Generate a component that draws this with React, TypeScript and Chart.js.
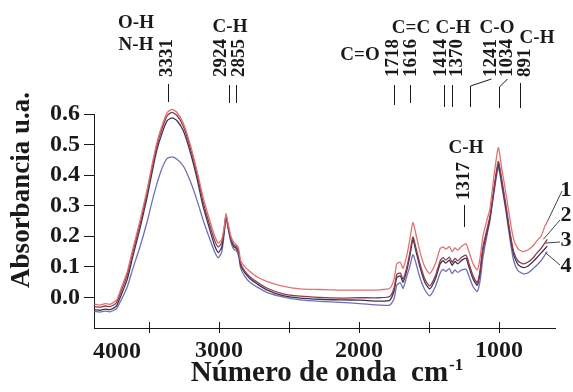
import React, { useEffect, useRef } from 'react';
import { Chart, registerables } from 'chart.js';

Chart.register(...registerables);

// Wavenumber (cm-1) sampling points
const wavenumbers = [
  3890, 3850, 3815, 3780, 3750, 3730, 3695, 3655, 3615, 3565,
  3515, 3480, 3445, 3405, 3370, 3335, 3300, 3255, 3205, 3155,
  3115, 3065, 3030, 3005, 2980, 2960, 2950, 2935, 2915, 2895,
  2875, 2860, 2845, 2815, 2780, 2720, 2655, 2545, 2420, 2280,
  2135, 1995, 1850, 1780, 1750, 1730, 1705, 1685, 1655, 1635,
  1615, 1595, 1565, 1530, 1495, 1455, 1420, 1400, 1380, 1355,
  1335, 1315, 1295, 1265, 1235, 1215, 1185, 1155, 1135, 1115,
  1085, 1065, 1035, 1005, 980, 950, 920, 895, 865, 830,
  795, 755, 730, 700, 670, 655,
];

const sample1 = [
  -0.022, -0.025, -0.02, -0.023, -0.015, -0.008, 0.035, 0.085, 0.16, 0.25,
  0.35, 0.43, 0.505, 0.565, 0.605, 0.615, 0.605, 0.57, 0.5, 0.41,
  0.33, 0.25, 0.2, 0.178, 0.19, 0.24, 0.275, 0.24, 0.2, 0.18,
  0.172, 0.16, 0.12, 0.1, 0.085, 0.065, 0.052, 0.037, 0.028, 0.026,
  0.024, 0.024, 0.025, 0.03, 0.06, 0.11, 0.115, 0.095, 0.145, 0.195,
  0.245, 0.21, 0.15, 0.1, 0.078, 0.11, 0.16, 0.165, 0.158, 0.166,
  0.15, 0.162, 0.155, 0.168, 0.175, 0.15, 0.11, 0.09, 0.13, 0.2,
  0.255, 0.29, 0.4, 0.49, 0.42, 0.34, 0.25, 0.19, 0.16, 0.15,
  0.155, 0.17, 0.185, 0.2, 0.235, 0.248,
];

const sample2 = [
  -0.03, -0.032, -0.028, -0.03, -0.024, -0.016, 0.025, 0.075, 0.15, 0.24,
  0.34, 0.42, 0.495, 0.555, 0.595, 0.605, 0.595, 0.56, 0.49, 0.4,
  0.315, 0.235, 0.185, 0.165, 0.18, 0.235, 0.27, 0.235, 0.195, 0.172,
  0.166, 0.15, 0.11, 0.085, 0.068, 0.048, 0.03, 0.012, 0.004, 0.0,
  -0.002, -0.001, -0.001, 0.003, 0.03, 0.075, 0.08, 0.06, 0.105, 0.15,
  0.198, 0.165, 0.11, 0.06, 0.038, 0.07, 0.12, 0.13, 0.122, 0.132,
  0.115, 0.128, 0.12, 0.132, 0.138, 0.112, 0.07, 0.048, 0.09, 0.165,
  0.225, 0.265, 0.36, 0.445, 0.385, 0.3, 0.21, 0.15, 0.12, 0.11,
  0.115, 0.13, 0.145, 0.16, 0.18, 0.19,
];

const sample3 = [
  -0.04, -0.042, -0.038, -0.04, -0.034, -0.026, 0.012, 0.06, 0.135, 0.225,
  0.325, 0.405, 0.48, 0.54, 0.578, 0.587, 0.578, 0.545, 0.475, 0.385,
  0.3, 0.22, 0.168, 0.147, 0.165, 0.23, 0.268, 0.23, 0.19, 0.166,
  0.16, 0.145, 0.105, 0.08, 0.062, 0.042, 0.024, 0.006, -0.002, -0.006,
  -0.008, -0.009, -0.012, -0.009, 0.02, 0.065, 0.07, 0.05, 0.095, 0.14,
  0.19, 0.155, 0.1, 0.05, 0.028, 0.06, 0.11, 0.12, 0.112, 0.122,
  0.105, 0.118, 0.11, 0.122, 0.128, 0.1, 0.06, 0.04, 0.08, 0.155,
  0.215, 0.258, 0.355, 0.435, 0.375, 0.29, 0.2, 0.14, 0.108, 0.098,
  0.102, 0.118, 0.13, 0.145, 0.16, 0.168,
];

const sample4 = [
  -0.046, -0.048, -0.045, -0.047, -0.042, -0.035, -0.005, 0.035, 0.095, 0.165,
  0.245, 0.31, 0.37, 0.425, 0.455, 0.46, 0.452, 0.43, 0.38, 0.315,
  0.255, 0.19, 0.148, 0.13, 0.15, 0.22, 0.26, 0.225, 0.18, 0.158,
  0.152, 0.135, 0.095, 0.068, 0.05, 0.032, 0.016, 0.002, -0.008, -0.013,
  -0.016, -0.02, -0.025, -0.025, -0.005, 0.04, 0.048, 0.03, 0.075, 0.105,
  0.14, 0.115, 0.065, 0.025, 0.005, 0.035, 0.08, 0.092, 0.085, 0.094,
  0.078, 0.09, 0.082, 0.09, 0.092, 0.07, 0.035, 0.02, 0.055, 0.13,
  0.205, 0.25, 0.345, 0.425, 0.365, 0.28, 0.185, 0.12, 0.088, 0.078,
  0.08, 0.095, 0.105, 0.12, 0.14, 0.15,
];

const sampleNames = ['1', '2', '3', '4'];

const xTickValues = [3500, 3000, 2500, 2000, 1500, 1000];
const xTickLabels = ['', '3000', '', '2000', '', '1000'];
const xAxisStartLabel = '4000';
const yTickValues = [0, 0.1, 0.2, 0.3, 0.4, 0.5, 0.6];
const yTickLabels = ['0.0', '0.1', '0.2', '0.3', '0.4', '0.5', '0.6'];

// Band markers: label text and the wavenumber where the marker line sits
const peakLabels = ['3331', '2924', '2855', '1718', '1616', '1414', '1370', '1241', '1034', '891'];
const peakAt = [3364, 2929, 2879, 1750, 1636, 1393, 1336, 1207, 1000, 850];
const innerPeakLabel = '1317';
const innerPeakAt = 1250;
const bondLabels = ['O-H', 'N-H', 'C-H', 'C=O', 'C=C', 'C-H', 'C-O', 'C-H', 'C-H'];

const xTitle = 'Número de onda  cm';
const xTitleSup = '-1';
const yTitle = 'Absorbancia u.a.';

const FONT = '"Liberation Serif", "Times New Roman", serif';
const INK = '#1a1a1a';

const overlay = {
  id: 'overlay',
  afterDraw(chart: any) {
    const ctx = chart.ctx as CanvasRenderingContext2D;
    const xs = chart.scales.x;
    const ys = chart.scales.y;
    ctx.save();
    ctx.strokeStyle = INK;
    ctx.fillStyle = INK;
    ctx.lineWidth = 1;
    const seg = (x1: number, y1: number, x2: number, y2: number) => {
      ctx.beginPath();
      ctx.moveTo(x1, y1);
      ctx.lineTo(x2, y2);
      ctx.stroke();
    };

    // inner half of crossing x ticks
    xTickValues.forEach((v) => {
      const px = Math.round(xs.getPixelForValue(v)) + 0.5;
      seg(px, xs.top - 6, px, xs.top);
    });

    // axis start label
    ctx.font = `bold 24px ${FONT}`;
    ctx.textAlign = 'left';
    ctx.textBaseline = 'alphabetic';
    ctx.fillText(xAxisStartLabel, xs.left - 1, 358);

    // y title
    ctx.save();
    ctx.translate(22, 190);
    ctx.rotate(-Math.PI / 2);
    ctx.font = `bold 27px ${FONT}`;
    ctx.textAlign = 'center';
    ctx.textBaseline = 'middle';
    ctx.fillText(yTitle, 0, 0);
    ctx.restore();

    // x title with superscript
    ctx.font = `bold 29px ${FONT}`;
    const wMain = ctx.measureText(xTitle).width;
    ctx.font = `bold 17px ${FONT}`;
    const wSup = ctx.measureText(xTitleSup).width;
    const cx = (xs.left + xs.right) / 2 + 2;
    const start = cx - (wMain + wSup) / 2;
    ctx.textAlign = 'left';
    ctx.font = `bold 29px ${FONT}`;
    ctx.fillText(xTitle, start, 381);
    ctx.font = `bold 17px ${FONT}`;
    ctx.fillText(xTitleSup, start + wMain + 1, 370);

    // band markers
    const textShift = [-1, -8, 3, -1, 1, -3, 5, 21, 8, 5];
    const lineTop = [84, 85, 85, 85, 85, 85, 85, 86, 87, 83];
    const lineBottom = [102, 103, 103, 105, 103, 107, 107, 107, 108, 108];
    ctx.font = `bold 19px ${FONT}`;
    peakLabels.forEach((lab, i) => {
      const px = Math.round(xs.getPixelForValue(peakAt[i])) + 0.5;
      const tx = px + textShift[i];
      seg(px, lineTop[i], px, lineBottom[i]);
      if (Math.abs(textShift[i]) > 6 && i >= 7) seg(px, lineTop[i], tx, 79);
      ctx.save();
      ctx.translate(tx, 77);
      ctx.rotate(-Math.PI / 2);
      ctx.textAlign = 'left';
      ctx.textBaseline = 'middle';
      ctx.fillText(lab, 0, 0);
      ctx.restore();
    });
    {
      const px = Math.round(xs.getPixelForValue(innerPeakAt)) + 0.5;
      seg(px, 205, px, 227);
      ctx.save();
      ctx.translate(px, 200);
      ctx.rotate(-Math.PI / 2);
      ctx.textAlign = 'left';
      ctx.textBaseline = 'middle';
      ctx.fillText(innerPeakLabel, 0, 0);
      ctx.restore();
    }

    // bond labels
    const bondPos = [
      [136, 28], [136, 50], [230, 32], [360, 60], [411, 33], [453, 33], [497, 33], [537, 43], [466, 153],
    ];
    ctx.textAlign = 'center';
    ctx.textBaseline = 'alphabetic';
    bondLabels.forEach((b, i) => ctx.fillText(b, bondPos[i][0], bondPos[i][1]));

    // sample labels with leader lines
    const labelPos = [[566, 190], [566, 215], [566, 240], [566, 266]];
    const leaderEnd = [[562, 191], [560, 220], [560, 242], [560, 265]];
    const leaderShift = [[0, 0], [-4, 0], [-2, -3], [-2, 1]];
    ctx.font = `bold 22px ${FONT}`;
    ctx.textBaseline = 'middle';
    chart.data.datasets.forEach((ds: any, i: number) => {
      const last = ds.data[ds.data.length - 1];
      const sx = xs.getPixelForValue(last.x) + leaderShift[i][0];
      const sy = ys.getPixelForValue(last.y) + leaderShift[i][1];
      ctx.strokeStyle = '#444';
      seg(sx, sy, leaderEnd[i][0], leaderEnd[i][1]);
      ctx.fillText(sampleNames[i], labelPos[i][0], labelPos[i][1]);
    });
    ctx.restore();
  },
};

export default function App() {
  const ref = useRef<HTMLCanvasElement | null>(null);
  useEffect(() => {
    if (!ref.current) return;
    const series = [sample1, sample2, sample3, sample4];
    const colors = ['#e07272', '#8e3a48', '#3a3352', '#6f6fb8'];
    const chart = new Chart(ref.current, {
      type: 'line',
      data: {
        datasets: series.map((s, i) => ({
          label: sampleNames[i],
          data: wavenumbers.map((w, j) => ({ x: w, y: s[j] })),
          borderColor: colors[i],
          borderWidth: 1.3,
          pointRadius: 0,
          tension: 0.2,
          fill: false,
          clip: false as any,
        })),
      },
      options: {
        responsive: false,
        animation: false,
        devicePixelRatio: 1,
        layout: { padding: { top: 114, right: 18, left: 0, bottom: 0 } },
        plugins: { legend: { display: false }, tooltip: { enabled: false }, title: { display: false } },
        scales: {
          x: {
            type: 'linear',
            reverse: true,
            min: 600,
            max: 3893,
            afterBuildTicks: (s: any) => {
              s.ticks = xTickValues.map((v) => ({ value: v }));
            },
            afterFit: (s: any) => {
              s.height = 64;
            },
            ticks: {
              autoSkip: false,
              maxRotation: 0,
              padding: 3,
              color: INK,
              font: { family: FONT, size: 24, weight: 'bold' },
              callback: (_v: any, i: number) => xTickLabels[i],
            },
            grid: { drawOnChartArea: false, drawTicks: true, tickLength: 5, color: INK },
            border: { display: true, color: INK, width: 1 },
          },
          y: {
            min: -0.1,
            max: 0.6,
            afterBuildTicks: (s: any) => {
              s.ticks = yTickValues.map((v) => ({ value: v }));
            },
            afterFit: (s: any) => {
              s.width = 94;
            },
            ticks: {
              autoSkip: false,
              padding: 4,
              color: INK,
              font: { family: FONT, size: 24, weight: 'bold' },
              callback: (_v: any, i: number) => yTickLabels[i],
            },
            grid: { drawOnChartArea: false, drawTicks: true, tickLength: 10, color: INK },
            border: { display: true, color: INK, width: 1 },
          },
        },
      },
      plugins: [overlay],
    });
    return () => chart.destroy();
  }, []);
  return (
    <div style={{ position: 'fixed', left: 0, top: 0, width: 573, height: 392, background: '#fff' }}>
      <canvas ref={ref} width={573} height={392} />
    </div>
  );
}
